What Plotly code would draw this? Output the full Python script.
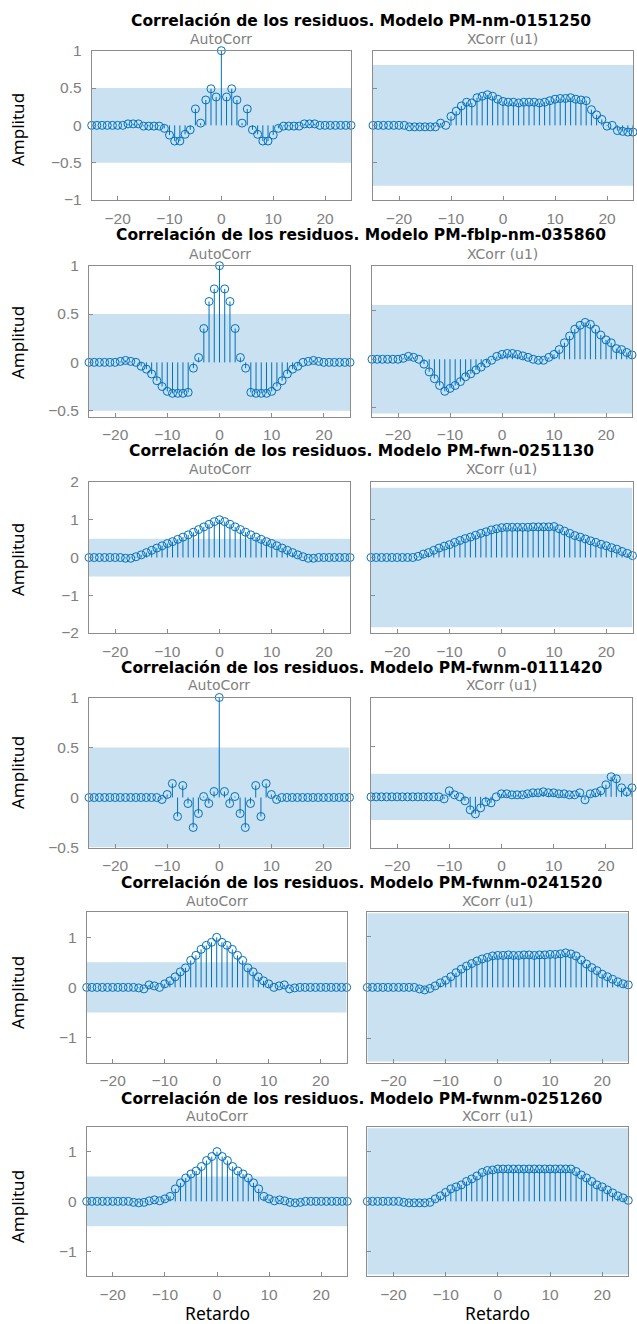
import plotly.graph_objects as go

W, H = 637, 1324
LAGS = list(range(-25, 26))
XTICKS = [-20, -10, 0, 10, 20]

MODELS = ["PM-nm-0151250", "PM-fblp-nm-035860", "PM-fwn-0251130",
          "PM-fwnm-0111420", "PM-fwnm-0241520", "PM-fwnm-0251260"]

# ---- AutoCorr values, lags -25..25 ----
AC1 = [0, 0, 0, 0, 0, 0, 0, 0.02, 0.02, 0.02, -0.01, -0.01, -0.01, -0.01, -0.04, -0.13, -0.21, -0.21, -0.12, -0.06, 0.22, 0.03, 0.34, 0.49, 0.38,
       1.0,
       0.38, 0.49, 0.34, 0.03, 0.22, -0.06, -0.12, -0.21, -0.21, -0.13, -0.04, -0.01, -0.01, -0.01, -0.01, 0.02, 0.02, 0.02, 0, 0, 0, 0, 0, 0, 0]
AC2 = [0, 0, 0, 0, 0, 0, 0.01, 0.02, 0.01, 0.0, -0.04, -0.07, -0.12, -0.19, -0.25, -0.30, -0.32, -0.32, -0.32, -0.31, -0.06, 0.05, 0.35, 0.63, 0.76,
       1.0,
       0.76, 0.63, 0.35, 0.05, -0.06, -0.31, -0.32, -0.32, -0.32, -0.30, -0.25, -0.19, -0.12, -0.07, -0.04, 0.0, 0.01, 0.02, 0.01, 0, 0, 0, 0, 0, 0]
AC3 = [0, 0, 0, 0, 0, 0, 0, -0.02, -0.02, 0.02, 0.07, 0.13, 0.19, 0.25, 0.31, 0.37, 0.42, 0.48, 0.54, 0.60, 0.67, 0.74, 0.81, 0.88, 0.95,
       1.0,
       0.95, 0.88, 0.81, 0.74, 0.67, 0.60, 0.54, 0.48, 0.42, 0.37, 0.31, 0.25, 0.19, 0.13, 0.07, 0.02, -0.02, -0.02, 0, 0, 0, 0, 0, 0, 0]
AC4 = [0, 0, 0, 0, 0, 0, 0, 0, 0, 0, 0, 0, 0, 0, -0.02, 0.03, 0.14, -0.19, 0.12, -0.06, -0.30, -0.16, 0.01, -0.06, 0.06,
       1.0,
       0.06, -0.06, 0.01, -0.16, -0.30, -0.06, 0.12, -0.19, 0.14, 0.03, -0.02, 0, 0, 0, 0, 0, 0, 0, 0, 0, 0, 0, 0, 0, 0]
AC5 = [0, 0, 0, 0, 0, 0, 0, 0, 0, 0, -0.01, -0.03, 0.05, 0.03, 0.0, 0.07, 0.13, 0.21, 0.31, 0.39, 0.54, 0.64, 0.76, 0.84, 0.90,
       1.0,
       0.90, 0.84, 0.76, 0.64, 0.54, 0.39, 0.31, 0.21, 0.13, 0.07, 0.0, 0.03, 0.05, -0.03, -0.01, 0, 0, 0, 0, 0, 0, 0, 0, 0, 0]
AC6 = [0, 0, 0, 0, 0, 0, 0, 0, 0, -0.02, -0.03, -0.02, 0.01, 0.03, 0.01, 0.05, 0.10, 0.25, 0.37, 0.47, 0.55, 0.61, 0.70, 0.82, 0.90,
       1.0,
       0.90, 0.82, 0.70, 0.61, 0.55, 0.47, 0.37, 0.25, 0.10, 0.05, 0.01, 0.03, 0.01, -0.02, -0.03, -0.02, 0, 0, 0, 0, 0, 0, 0, 0, 0]

# ---- XCorr (u1) values, lags -25..25 ----
XC1 = [0, 0, 0, 0, 0, 0, 0, -0.02, -0.02, -0.02, -0.02, -0.02, -0.02, 0.03, 0.0, 0.12, 0.19, 0.26, 0.31, 0.30, 0.37, 0.39, 0.41, 0.39, 0.35,
       0.32,
       0.31, 0.31, 0.30, 0.31, 0.31, 0.31, 0.30, 0.31, 0.33, 0.35, 0.36, 0.36, 0.37, 0.35, 0.34, 0.33, 0.21, 0.14, 0.08, -0.01, 0.0, -0.07, -0.08, -0.09, -0.09]
XC2 = [0, 0, 0, 0, 0, 0, 0.01, 0.03, 0.02, 0.0, -0.05, -0.13, -0.20, -0.27, -0.33, -0.30, -0.27, -0.23, -0.18, -0.15, -0.11, -0.08, -0.04, -0.01, 0.03,
       0.05,
       0.06, 0.06, 0.05, 0.035, 0.02, 0.0, -0.01, -0.01, 0.02, 0.05, 0.10, 0.17, 0.24, 0.31, 0.35, 0.38, 0.36, 0.31, 0.25, 0.20, 0.17, 0.11, 0.10, 0.07, 0.045]
XC3 = [0, 0, 0, 0, 0, 0, 0, 0, 0, 0.03, 0.09, 0.13, 0.19, 0.25, 0.30, 0.34, 0.40, 0.45, 0.50, 0.54, 0.59, 0.64, 0.68, 0.73, 0.76,
       0.79,
       0.80, 0.80, 0.80, 0.80, 0.80, 0.81, 0.81, 0.81, 0.81, 0.82, 0.76, 0.70, 0.64, 0.58, 0.54, 0.49, 0.44, 0.40, 0.35, 0.31, 0.26, 0.22, 0.16, 0.11, 0.05]
XC4 = [0, 0, 0, 0, 0, 0, 0, 0, 0, 0, 0, 0, 0, 0, -0.02, 0.06, 0.02, 0.0, -0.04, -0.13, -0.17, -0.11, -0.05, -0.06, 0.0,
       0.03,
       0.03, 0.02, 0.02, 0.02, 0.03, 0.04, 0.04, 0.05, 0.04, 0.04, 0.03, 0.03, 0.02, 0.02, 0.04, -0.03, 0.03, 0.04, 0.06, 0.12, 0.20, 0.18, 0.09, 0.05, 0.09]
XC5 = [0, 0, 0, 0, 0, 0, 0, 0, 0, 0.0, -0.03, -0.05, -0.02, 0.03, 0.09, 0.14, 0.21, 0.29, 0.36, 0.42, 0.47, 0.52, 0.56, 0.59, 0.62,
       0.63,
       0.63, 0.64, 0.63, 0.63, 0.64, 0.64, 0.63, 0.64, 0.64, 0.65, 0.65, 0.66, 0.68, 0.66, 0.62, 0.54, 0.46, 0.39, 0.33, 0.26, 0.21, 0.16, 0.11, 0.07, 0.05]
XC6 = [0, 0, 0, 0, 0, 0, 0, -0.02, -0.03, -0.03, -0.03, -0.03, -0.02, 0.05, 0.11, 0.18, 0.25, 0.29, 0.33, 0.40, 0.45, 0.51, 0.58, 0.62, 0.63,
       0.65,
       0.65, 0.65, 0.65, 0.65, 0.65, 0.65, 0.65, 0.65, 0.65, 0.65, 0.65, 0.65, 0.65, 0.65, 0.60, 0.53, 0.47, 0.40, 0.33, 0.29, 0.23, 0.17, 0.11, 0.07, 0.02]

AUTO = [AC1, AC2, AC3, AC4, AC5, AC6]
XCORR = [XC1, XC2, XC3, XC4, XC5, XC6]
AUTO_BAND = [0.5, 0.5, 0.5, 0.5, 0.5, 0.5]
XCORR_BAND = [0.81, 0.56, 1.85, 0.23, 1.46, 1.47]
AUTO_YRANGE = [[-1, 1], [-0.56, 1.0], [-2, 2], [-0.5, 1.0], [-1.5, 1.5], [-1.5, 1.5]]
XCORR_YRANGE = [[-1, 1], [-0.59, 0.965], [-2, 2], [-0.505, 0.99], [-1.48, 1.48], [-1.5, 1.5]]
AUTO_DTICK = [0.5, 0.5, 1, 0.5, 1, 1]

# ---- geometry (pixels) ----
LEFT_X = [(91.7, 351), (89, 350), (89, 350), (89, 349.5), (86.7, 346.7), (86.7, 347.3)]
RIGHT_X = [(373, 633), (372, 632), (371, 632.5), (371, 632), (367.3, 628.3), (367.3, 628.3)]
ROW_Y = [(50.7, 200), (265.7, 416.5), (482, 633), (697.5, 847.5), (912.3, 1062.5), (1126.7, 1276)]
TITLE_Y = [21, 235, 451.5, 667.5, 883, 1099]
SUB_Y = [38.5, 253.5, 469.5, 685.5, 900.5, 1116]
YLAB_Y = [130, 343, 560, 773, 993, 1207]

BLUE = "#0072BD"
BANDC = "#c9e1f1"
FRAME = "#8c8c8c"
GREY = "#808080"

fig = go.Figure()
layout = dict(template="none", width=W, height=H, autosize=False,
              margin=dict(l=0, r=0, t=0, b=0, pad=0, autoexpand=False),
              paper_bgcolor="white", plot_bgcolor="white", showlegend=False,
              hovermode=False)
shapes = []
annotations = []


def add_panel(k, lags, vals, band, yrange, xdom, ydom, dtick, show_ylabels):
    xa = "x" if k == 1 else f"x{k}"
    ya = "y" if k == 1 else f"y{k}"
    sx, sy = [], []
    for x, v in zip(lags, vals):
        sx += [x, x, None]
        sy += [0, v, None]
    fig.add_trace(go.Scatter(x=sx, y=sy, mode="lines", xaxis=xa, yaxis=ya,
                             line=dict(color=BLUE, width=1), hoverinfo="skip"))
    fig.add_trace(go.Scatter(x=lags, y=vals, mode="markers", xaxis=xa, yaxis=ya,
                             cliponaxis=False,
                             marker=dict(symbol="circle-open", size=8, color=BLUE,
                                         line=dict(width=1, color=BLUE))))
    shapes.append(dict(type="rect", xref=xa, yref=ya, x0=lags[0], x1=lags[-1],
                       y0=-band, y1=band, fillcolor=BANDC, line=dict(width=0),
                       layer="below"))
    axname = "xaxis" if k == 1 else f"xaxis{k}"
    ayname = "yaxis" if k == 1 else f"yaxis{k}"
    common = dict(showline=True, mirror=True, linecolor=FRAME, linewidth=1,
                  ticks="inside", ticklen=4, tickcolor=FRAME, showgrid=False,
                  zeroline=False, fixedrange=True, automargin=False,
                  tickfont=dict(family="Liberation Sans", size=15.5, color=GREY))
    layout[axname] = dict(common, domain=[xdom[0] / W, xdom[1] / W], range=[-25, 25],
                          tickmode="array", tickvals=XTICKS, anchor=ya, ticklabelstandoff=4)
    layout[ayname] = dict(common, domain=[1 - ydom[1] / H, 1 - ydom[0] / H],
                          range=yrange, dtick=dtick, tick0=0, anchor=xa,
                          showticklabels=show_ylabels, ticklabelstandoff=6)


for r in range(6):
    add_panel(2 * r + 1, LAGS, AUTO[r], AUTO_BAND[r], AUTO_YRANGE[r],
              LEFT_X[r], ROW_Y[r], AUTO_DTICK[r], True)
    add_panel(2 * r + 2, LAGS, XCORR[r], XCORR_BAND[r], XCORR_YRANGE[r],
              RIGHT_X[r], ROW_Y[r], AUTO_DTICK[r], False)
    annotations.append(dict(text="Correlación de los residuos. Modelo " + MODELS[r],
                            xref="paper", yref="paper", x=361 / W, y=1 - TITLE_Y[r] / H,
                            xanchor="center", yanchor="middle", showarrow=False,
                            font=dict(family="DejaVu Sans", size=15.5, color="black", weight="bold")))
    lx = LEFT_X[r]
    rx = RIGHT_X[r]
    annotations.append(dict(text="AutoCorr", xref="paper", yref="paper",
                            x=(lx[0] + lx[1]) / 2 / W, y=1 - SUB_Y[r] / H,
                            xanchor="center", yanchor="middle", showarrow=False,
                            font=dict(family="DejaVu Sans", size=14, color=GREY)))
    annotations.append(dict(text="XCorr (u1)", xref="paper", yref="paper",
                            x=(rx[0] + rx[1]) / 2 / W, y=1 - SUB_Y[r] / H,
                            xanchor="center", yanchor="middle", showarrow=False,
                            font=dict(family="DejaVu Sans", size=14, color=GREY)))
    annotations.append(dict(text="Amplitud", xref="paper", yref="paper",
                            x=17 / W, y=1 - YLAB_Y[r] / H, textangle=-90,
                            xanchor="center", yanchor="middle", showarrow=False,
                            font=dict(family="Noto Sans", size=17, color="black")))

for cx in [(LEFT_X[5][0] + LEFT_X[5][1]) / 2, (RIGHT_X[5][0] + RIGHT_X[5][1]) / 2]:
    annotations.append(dict(text="Retardo", xref="paper", yref="paper",
                            x=cx / W, y=1 - 1313 / H, xanchor="center", yanchor="middle",
                            showarrow=False,
                            font=dict(family="Noto Sans", size=17.5, color="black")))

layout["shapes"] = shapes
layout["annotations"] = annotations
fig.update_layout(**layout)
fig.write_html("out.html", config={"displayModeBar": False, "staticPlot": True},
               post_script="document.body.style.margin='0';document.body.style.overflow='hidden';")
